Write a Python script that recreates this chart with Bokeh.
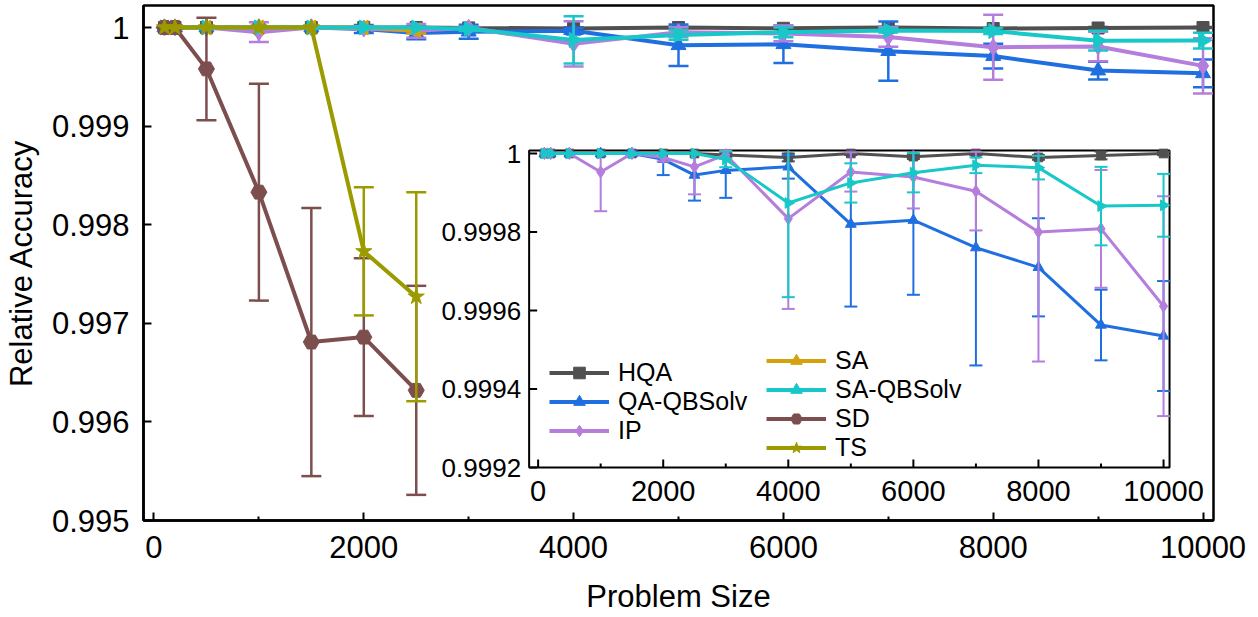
import math
from bokeh.plotting import figure
from bokeh.models import Range1d, FixedTicker, BoxAnnotation, Legend, LegendItem
from bokeh.core.properties import value
from bokeh.embed import file_html
from bokeh.resources import INLINE

# ---------------- data ----------------
sizes = [100, 200, 500, 1000, 1500, 2000, 2500, 3000, 4000, 5000, 6000, 7000, 8000, 9000, 10000]
sizes_short = [100, 200, 500, 1000, 1500, 2000, 2500]

hqa = [1.0, 1.0, 1.0, 1.0, 1.0, 1.0, 1.0, 0.999996, 0.99999, 1.0, 0.999992, 1.0, 0.99999, 0.999995, 1.0]
hqa_err = [0, 0, 0, 0, 0, 0, 0, 0.000005, 0.00001, 0.000004, 0.000006, 0.000004, 0.000006, 0.00001, 0.000004]

qa = [1.0, 1.0, 1.0, 1.0, 1.0, 0.999985, 0.999945, 0.999957, 0.999966, 0.99982, 0.99983, 0.99976, 0.99971, 0.999563, 0.999535]
qa_err = [0, 0, 0, 0, 0.000005, 0.00004, 0.000065, 0.00007, 0.00003, 0.00021, 0.00019, 0.0003, 0.000125, 0.00009, 0.00014]

ip = [1.0, 1.0, 1.0, 0.999953, 1.0, 0.99999, 0.999966, 0.999997, 0.999834, 0.999953, 0.99994, 0.999904, 0.9998, 0.999808, 0.999611]
ip_err = [0, 0, 0, 0.0001, 0, 0.00001, 0.00007, 0.00001, 0.00023, 0.00005, 0.00008, 0.0001, 0.00033, 0.00015, 0.00028]

sa = [1.0, 1.0, 1.0, 1.0, 1.0, 1.0, 0.99997]
sa_err = [0, 0, 0, 0, 0, 0.00001, 0.00003]

saq = [1.0, 1.0, 1.0, 1.0, 1.0, 1.0, 1.0, 0.999985, 0.999874, 0.999925, 0.999951, 0.99997, 0.999964, 0.999866, 0.999868]
saq_err = [0, 0, 0, 0, 0, 0, 0, 0.00002, 0.00024, 0.00005, 0.00005, 0.00002, 0.00003, 0.0001, 0.00008]

sd = [1.0, 1.0, 0.99958, 0.99833, 0.99681, 0.99686, 0.99632]
sd_err = [0, 0, 0.00052, 0.0011, 0.00136, 0.0008, 0.00106]

ts = [1.0, 1.0, 1.0, 1.0, 1.0, 0.99773, 0.99727]
ts_err = [0, 0, 0, 0, 0, 0.00065, 0.00106]

main_x_ticks = [0, 2000, 4000, 6000, 8000, 10000]
main_x_minor = [1000, 3000, 5000, 7000, 9000]
main_x_labels = ["0", "2000", "4000", "6000", "8000", "10000"]
main_y_ticks = [0.995, 0.996, 0.997, 0.998, 0.999, 1.0]
main_y_labels = ["0.995", "0.996", "0.997", "0.998", "0.999", "1"]

inset_x_ticks = [0, 2000, 4000, 6000, 8000, 10000]
inset_x_minor = [1000, 3000, 5000, 7000, 9000]
inset_x_labels = ["0", "2000", "4000", "6000", "8000", "10000"]
inset_y_ticks = [0.9992, 0.9994, 0.9996, 0.9998, 1.0]
inset_y_labels = ["0.9992", "0.9994", "0.9996", "0.9998", "1"]

x_title = "Problem Size"
y_title = "Relative Accuracy"

# ---------------- styles ----------------
FONT = "Liberation Sans"
# name, x, y, err, color, marker, angle, main size, in inset
series = [
    ("HQA", sizes, hqa, hqa_err, "#505050", "square", 0.0, 12, True),
    ("QA-QBSolv", sizes, qa, qa_err, "#1F6FE0", "triangle", 0.0, 15, True),
    ("IP", sizes, ip, ip_err, "#B57EDC", "diamond", 0.0, 17, True),
    ("SA", sizes_short, sa, sa_err, "#D4A20C", "triangle", math.pi / 2, 15, False),
    ("SA-QBSolv", sizes, saq, saq_err, "#18C8C8", "triangle", -math.pi / 2, 15, True),
    ("SD", sizes_short, sd, sd_err, "#7D4E4E", "hex", 0.0, 16, False),
    ("TS", sizes_short, ts, ts_err, "#9B9B00", "star", 0.0, 17, False),
]

# ---------------- geometry (page pixels of the frame; page has no margin) ----------------
FL, FR, FT, FB = 142, 1213, 5, 520
W, H = 1250, 617
y_top = 1.0 + (27 - FT) * (0.005 / (FB - 27))

p = figure(width=W, height=H, output_backend="svg", toolbar_location=None,
           x_range=Range1d(-100, 10100), y_range=Range1d(0.995, y_top),
           min_border_left=FL, min_border_right=W - FR, min_border_top=FT,
           min_border_bottom=H - FB)
p.xgrid.visible = False
p.ygrid.visible = False
p.outline_line_color = "black"
p.outline_line_width = 2.5
p.outline_line_alpha = 1.0
p.background_fill_color = "white"
p.border_fill_color = "white"

for ax in (p.xaxis[0], p.yaxis[0]):
    ax.axis_line_width = 2.5
    ax.axis_line_color = "black"
    ax.major_tick_in = 8
    ax.major_tick_out = 0
    ax.minor_tick_in = 4
    ax.minor_tick_out = 0
    ax.major_tick_line_width = 2
    ax.minor_tick_line_width = 2
    ax.major_label_text_font = FONT
    ax.major_label_text_font_size = "31px"
    ax.major_label_text_color = "black"
    ax.axis_label_text_font = FONT
    ax.axis_label_text_font_size = "31px"
    ax.axis_label_text_font_style = "normal"
    ax.axis_label_text_color = "black"

p.xaxis.ticker = FixedTicker(ticks=main_x_ticks, minor_ticks=main_x_minor)
p.xaxis.major_label_overrides = dict(zip(main_x_ticks, main_x_labels))
p.xaxis.major_label_standoff = 15
p.xaxis.axis_label = x_title
p.xaxis.axis_label_standoff = 18

p.yaxis.ticker = FixedTicker(ticks=main_y_ticks, minor_ticks=[])
p.yaxis.major_label_overrides = dict(zip(main_y_ticks, main_y_labels))
p.yaxis.major_label_standoff = 14
p.yaxis.axis_label = y_title
p.yaxis.axis_label_standoff = 10

# ---------------- main plot ----------------
legend_renderers = {}
for name, xs, ys, es, color, marker, angle, ms, _ in series:
    xe = [x for x, e in zip(xs, es) if e > 0]
    lo = [y - e for y, e in zip(ys, es) if e > 0]
    hi = [y + e for y, e in zip(ys, es) if e > 0]
    if xe:
        p.segment(xe, lo, xe, hi, line_color=color, line_width=2.5)
        p.scatter(xe + xe, lo + hi, marker="dash", size=20, line_color=color, line_width=2.5)
    ln = p.line(xs, ys, line_color=color, line_width=4)
    sc = p.scatter(xs, ys, marker=marker, size=ms, angle=angle, fill_color=color, line_color=color)
    legend_renderers[name] = [ln, sc]

# ---------------- inset (drawn through extra ranges) ----------------
IL, IR, IT, IB = 528, 1169, 150, 467          # inset box, page px
ix_px0, ix_px1 = 537, 1163                      # page px of x = 0 and x = 10000
iy_px1, iy_px0 = 153, 467                       # page px of y = 1 and y = 0.9992
sx = 10000 / (ix_px1 - ix_px0)
sy = 0.0008 / (iy_px0 - iy_px1)


def ix(px):
    return 0 + (px - ix_px0) * sx


def iy(px):
    return 1.0 - (px - iy_px1) * sy


p.extra_x_ranges = {"ix": Range1d(ix(FL), ix(FR))}
p.extra_y_ranges = {"iy": Range1d(iy(FB), iy(FT))}
box_l, box_r, box_b, box_t = ix(IL), ix(IR), iy(IB), iy(IT)

box = BoxAnnotation(left=box_l, right=box_r, bottom=box_b, top=box_t,
                    x_range_name="ix", y_range_name="iy", level="guide",
                    fill_color="white", fill_alpha=1.0, line_color="black", line_width=2, line_alpha=1.0)
p.add_layout(box)

kw = dict(x_range_name="ix", y_range_name="iy", level="annotation")
for name, xs, ys, es, color, marker, angle, ms, in_inset in series:
    if not in_inset:
        continue
    xe, lo, hi, cx, cy = [], [], [], [], []
    for x, y, e in zip(xs, ys, es):
        if e <= 0:
            continue
        l, h = y - e, y + e
        xe.append(x)
        lo.append(max(l, box_b))
        hi.append(min(h, box_t))
        if l >= box_b:
            cx.append(x); cy.append(l)
        if h <= box_t:
            cx.append(x); cy.append(h)
    p.segment(xe, lo, xe, hi, line_color=color, line_width=2, **kw)
    p.scatter(cx, cy, marker="dash", size=13, line_color=color, line_width=2, **kw)
    p.line(xs, ys, line_color=color, line_width=3, **kw)
    p.scatter(xs, ys, marker=marker, size=ms * 0.72, angle=angle, fill_color=color, line_color=color, **kw)

# inset ticks
p.ray(inset_x_ticks, [box_b] * len(inset_x_ticks), length=8, angle=math.pi / 2,
      length_units="screen", line_color="black", line_width=2, **kw)
p.ray(inset_x_minor, [box_b] * len(inset_x_minor), length=4, angle=math.pi / 2,
      length_units="screen", line_color="black", line_width=2, **kw)
p.ray([box_l] * len(inset_y_ticks), inset_y_ticks, length=8, angle=0,
      length_units="screen", line_color="black", line_width=2, **kw)
# inset tick labels
p.text(inset_x_ticks, [box_b] * len(inset_x_ticks), text=inset_x_labels, y_offset=23,
       text_align="center", text_baseline="middle", text_font=value(FONT),
       text_font_size="29px", text_color="black", **kw)
p.text([box_l] * len(inset_y_ticks), inset_y_ticks, text=inset_y_labels, x_offset=-8,
       text_align="right", text_baseline="middle", text_font=value(FONT),
       text_font_size="26px", text_color="black", **kw)


# ---------------- legends ----------------
def make_legend(names, loc):
    return Legend(items=[LegendItem(label=n, renderers=legend_renderers[n]) for n in names],
                  location=loc, orientation="vertical", label_text_font=FONT,
                  label_text_font_size="25px", label_text_color="black",
                  glyph_width=60, glyph_height=29, label_height=28, spacing=0,
                  padding=0, margin=0, label_standoff=9,
                  border_line_alpha=0, background_fill_alpha=0)


p.add_layout(make_legend(["HQA", "QA-QBSolv", "IP"], (548 - FL, FB - 445)))
p.add_layout(make_legend(["SA", "SA-QBSolv", "SD", "TS"], (765 - FL, FB - 462)))

open("out.html", "w").write(file_html(p, INLINE))
